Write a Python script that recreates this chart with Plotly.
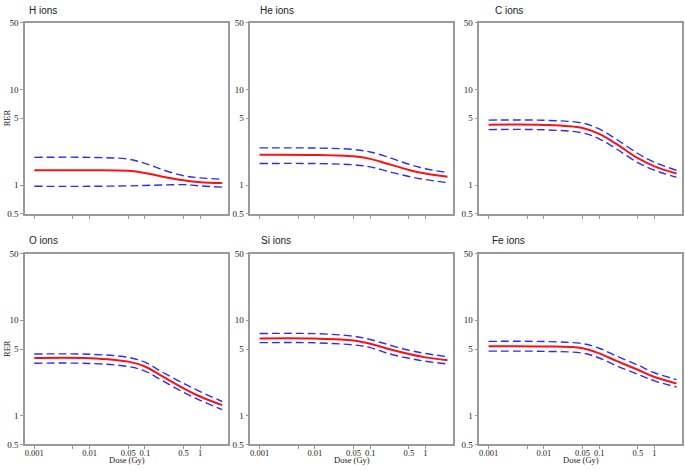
import plotly.graph_objects as go

# Dose grid (Gy)
dose = [0.001, 0.01, 0.05, 0.1, 0.2, 0.5, 1, 2.5]

panel_titles = ["H ions", "He ions", "C ions", "O ions", "Si ions", "Fe ions"]

# Estimates (red, solid) and confidence bounds (blue, dashed)
h_est = [1.43, 1.43, 1.41, 1.34, 1.23, 1.12, 1.07, 1.05]
h_up = [1.95, 1.95, 1.87, 1.69, 1.46, 1.25, 1.19, 1.15]
h_lo = [0.97, 0.97, 0.98, 0.99, 1.00, 1.01, 0.98, 0.95]

he_est = [2.08, 2.07, 2.00, 1.88, 1.68, 1.44, 1.32, 1.22]
he_up = [2.45, 2.44, 2.36, 2.22, 1.98, 1.65, 1.48, 1.35]
he_lo = [1.68, 1.68, 1.63, 1.55, 1.40, 1.23, 1.14, 1.06]

c_est = [4.29, 4.27, 3.96, 3.44, 2.72, 1.91, 1.57, 1.32]
c_up = [4.79, 4.77, 4.46, 3.87, 3.05, 2.14, 1.73, 1.43]
c_lo = [3.81, 3.79, 3.52, 3.05, 2.41, 1.72, 1.43, 1.21]

o_est = [4.03, 4.01, 3.69, 3.28, 2.62, 1.94, 1.59, 1.29]
o_up = [4.43, 4.41, 4.09, 3.64, 2.90, 2.18, 1.79, 1.41]
o_lo = [3.55, 3.53, 3.28, 2.94, 2.36, 1.76, 1.45, 1.16]

si_est = [6.46, 6.44, 6.16, 5.69, 5.06, 4.43, 4.09, 3.81]
si_up = [7.27, 7.25, 6.82, 6.30, 5.61, 4.86, 4.49, 4.16]
si_lo = [5.83, 5.81, 5.52, 5.18, 4.53, 4.00, 3.72, 3.49]

fe_est = [5.35, 5.33, 5.10, 4.50, 3.78, 3.03, 2.55, 2.18]
fe_up = [6.01, 5.99, 5.69, 5.10, 4.25, 3.39, 2.82, 2.39]
fe_lo = [4.75, 4.73, 4.53, 4.03, 3.36, 2.72, 2.32, 2.00]

series = [
    (h_est, h_up, h_lo),
    (he_est, he_up, he_lo),
    (c_est, c_up, c_lo),
    (o_est, o_up, o_lo),
    (si_est, si_up, si_lo),
    (fe_est, fe_up, fe_lo),
]

x_tickvals = [0.001, 0.005, 0.01, 0.05, 0.1, 0.5, 1]
x_ticktext = ["0.001", "", "0.01", "0.05", "0.1", "0.5", "1"]
y_tickvals = [0.5, 1, 5, 10, 50]
y_ticktext = ["0.5", "1", "5", "10", "50"]

W, H = 685, 471
col_px = [(25, 228), (250.3, 453.3), (479.3, 682.3)]
row_px = [(18.3, 213.3), (254, 449)]

fig = go.Figure()
tick_font = dict(family="Liberation Serif, Times New Roman, serif", size=9, color="#222")
xtick_font = dict(family="Liberation Serif, Times New Roman, serif", size=8.5, color="#222")
label_font = dict(family="Liberation Serif, Times New Roman, serif", size=8.5, color="#222")
axis_col = "#9a9a9a"
layout = {}
title_x = [[26.7, 258.3, 493.3], [26.7, 259.3, 490.0]]
title_y = [6.0, 240.7]
annotations = []

for i, (est, up, lo) in enumerate(series):
    r, c = divmod(i, 3)
    n = i + 1
    xa = "x" if n == 1 else f"x{n}"
    ya = "y" if n == 1 else f"y{n}"
    for vals, color, dash, width in ((up, "#2b2bff", "8px,4px", 1.4),
                                      (lo, "#2b2bff", "8px,4px", 1.4),
                                      (est, "#ff1010", "solid", 2.0)):
        fig.add_trace(go.Scatter(x=dose, y=vals, mode="lines", xaxis=xa, yaxis=ya,
                                 line=dict(color=color, dash=dash, width=width, shape="spline", smoothing=1.0),
                                 showlegend=False, hoverinfo="skip"))
    x0, x1 = col_px[c]
    y0, y1 = row_px[r]
    layout[f"xaxis{n if n > 1 else ''}"] = dict(
        domain=[x0 / W, x1 / W], anchor=ya, type="log", range=[-3.168, 0.503],
        tickvals=x_tickvals, ticktext=x_ticktext, showticklabels=(r == 1),
        ticks="outside", ticklen=3, tickcolor=axis_col, tickwidth=1,
        showline=True, linecolor=axis_col, linewidth=1.5, mirror=True,
        showgrid=False, zeroline=False, tickfont=xtick_font, tickangle=0,
        ticklabelstandoff=-3)
    layout[f"yaxis{n if n > 1 else ''}"] = dict(
        domain=[1 - y1 / H, 1 - y0 / H], anchor=xa, type="log", range=[-0.30103, 1.69897],
        tickvals=y_tickvals, ticktext=y_ticktext,
        ticks="outside", ticklen=3, tickcolor=axis_col, tickwidth=1,
        showline=True, linecolor=axis_col, linewidth=1.5, mirror=True,
        showgrid=False, zeroline=False, tickfont=tick_font)
    annotations.append(dict(text=panel_titles[i], xref="paper", yref="paper",
                            x=title_x[r][c] / W, y=1 - title_y[r] / H, xanchor="left", yanchor="middle",
                            showarrow=False,
                            font=dict(family="Liberation Sans, Arial, sans-serif", size=10, color="#222")))
    if c == 0:
        annotations.append(dict(text="RER", xref="paper", yref="paper", x=7 / W,
                                y=1 - ((y0 + y1) / 2) / H, textangle=-90, showarrow=False,
                                xanchor="center", yanchor="middle", font=label_font))
    if r == 1:
        annotations.append(dict(text="Dose (Gy)", xref="paper", yref="paper", x=((x0 + x1) / 2) / W,
                                y=0, showarrow=False, xanchor="center", yanchor="bottom",
                                font=label_font, borderpad=0))

fig.update_layout(width=W, height=H, autosize=False, margin=dict(l=0, r=0, t=0, b=0),
                  paper_bgcolor="white", plot_bgcolor="white", annotations=annotations, **layout)
fig.write_html("out.html", config={"displayModeBar": False},
               post_script="document.body.style.margin='0px';document.body.style.padding='0px';"
                           "document.body.style.overflow='hidden';")
